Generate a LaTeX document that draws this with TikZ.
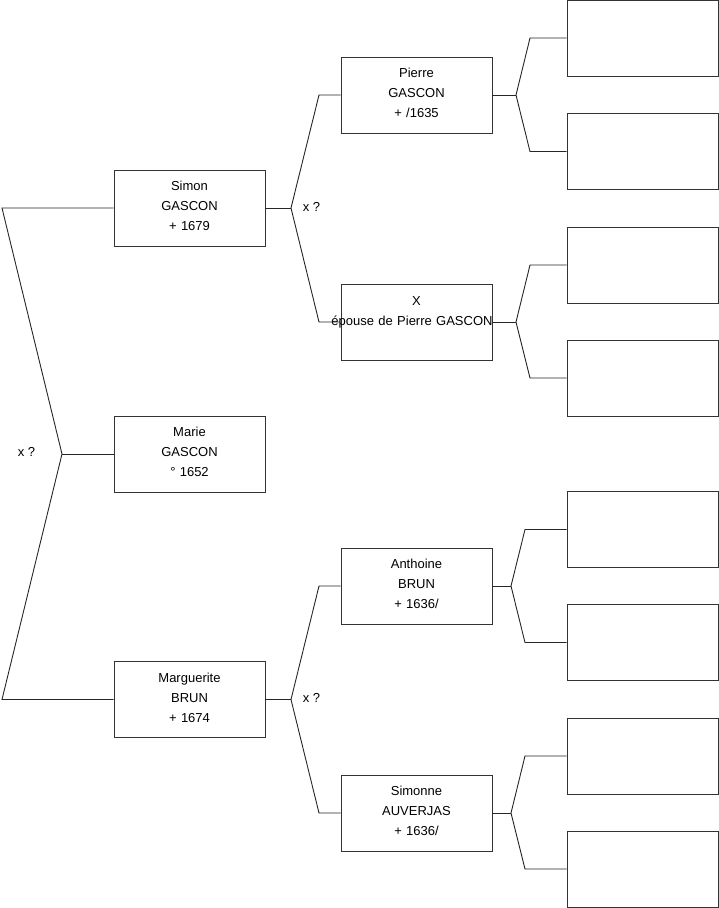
\documentclass[tikz,border=0pt]{standalone}
\usepackage{fontspec}
\setmainfont{Liberation Sans}
\begin{document}
\begin{tikzpicture}[x=1pt,y=-1pt,
  person/.style={draw=black!80, line width=0.9pt, rectangle, inner sep=0pt,
    minimum width=151pt, minimum height=76pt, text width=151pt, align=center,
    font=\fontsize{13}{20}\selectfont,
    execute at end node={\rule[-4pt]{0pt}{0pt}}},
  link/.style={draw=black!85, line width=0.9pt},
  lbl/.style={inner sep=0pt, font=\fontsize{13}{20}\selectfont}]
\useasboundingbox (0,0) rectangle (719,908);
% generation 1
\node[person] (simon) at (189.5,208) {Simon\\GASCON\\+ 1679};
\node[person] (marie) at (189.5,454) {Marie\\GASCON\\° 1652};
\node[person] (marg) at (189.5,699.5) {Marguerite\\BRUN\\+ 1674};
% generation 2
\node[person] (pierre) at (416.5,95) {Pierre\\GASCON\\+ /1635};
\node[person] (xbox) at (416.5,322) {X\hspace*{6pt}\\\makebox[151pt][c]{épouse de Pierre GASCON\hspace*{9pt}}\\[-3pt]\mbox{}};
\node[person] (anth) at (416.5,586) {Anthoine\\BRUN\\+ 1636/};
\node[person] (simonne) at (416.5,813) {Simonne\\AUVERJAS\\+ 1636/};
% generation 3
\node[person] (g1) at (642.5,38) {};
\node[person] (g2) at (642.5,151.5) {};
\node[person] (g3) at (642.5,265) {};
\node[person] (g4) at (642.5,378) {};
\node[person] (g5) at (642.5,529.5) {};
\node[person] (g6) at (642.5,642.5) {};
\node[person] (g7) at (642.5,756) {};
\node[person] (g8) at (642.5,869) {};
% labels
\node[lbl] (x0) at (26.5,452) {x ?};
\node[lbl] (x1) at (311.5,207) {x ?};
\node[lbl] (x2) at (311.5,698) {x ?};
% junction coordinates
\coordinate (la) at (2,208);
\coordinate (lj) at (62,454);
\coordinate (lb) at (2,699.5);
\coordinate (sj) at (291,208);
\coordinate (sa) at (319,95);
\coordinate (sb) at (319,322);
\coordinate (mj) at (291,699.5);
\coordinate (ma) at (319,586);
\coordinate (mb) at (319,813);
\coordinate (pj) at (516,95);
\coordinate (pa) at (530,38);
\coordinate (pb) at (530,151.5);
\coordinate (xj) at (516,322);
\coordinate (xa) at (530,265);
\coordinate (xb) at (530,378);
\coordinate (aj) at (511,586);
\coordinate (aa) at (525,529.5);
\coordinate (ab) at (525,642.5);
\coordinate (oj) at (511,813);
\coordinate (oa) at (525,756);
\coordinate (ob) at (525,869);
% connectors
\draw[link] (simon.west) -- (la) -- (lj) -- (lb) -- (marg.west);
\draw[link] (lj) -- (marie.west);
\draw[link] (simon.east) -- (sj);
\draw[link] (pierre.west) -- (sa) -- (sj) -- (sb) -- (xbox.west);
\draw[link] (marg.east) -- (mj);
\draw[link] (anth.west) -- (ma) -- (mj) -- (mb) -- (simonne.west);
\draw[link] (pierre.east) -- (pj);
\draw[link] (g1.west) -- (pa) -- (pj) -- (pb) -- (g2.west);
\draw[link] (xbox.east) -- (xj);
\draw[link] (g3.west) -- (xa) -- (xj) -- (xb) -- (g4.west);
\draw[link] (anth.east) -- (aj);
\draw[link] (g5.west) -- (aa) -- (aj) -- (ab) -- (g6.west);
\draw[link] (simonne.east) -- (oj);
\draw[link] (g7.west) -- (oa) -- (oj) -- (ob) -- (g8.west);
\end{tikzpicture}
\end{document}
